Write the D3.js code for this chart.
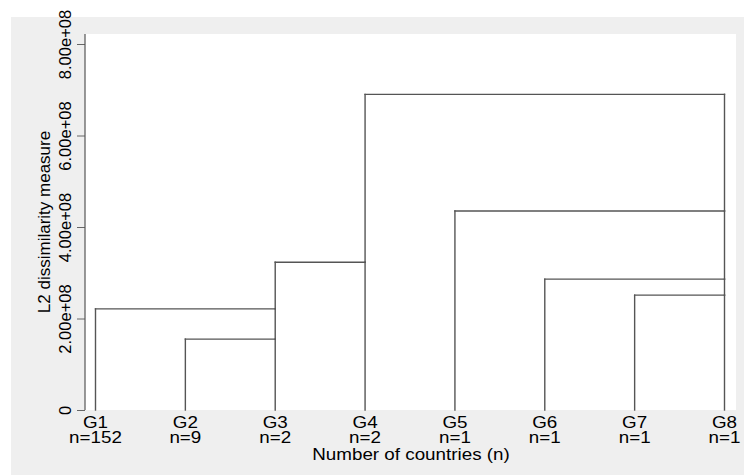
<!DOCTYPE html>
<html>
<head>
<meta charset="utf-8">
<script src="https://cdn.jsdelivr.net/npm/d3@7"></script>
<style>
  body { margin: 0; background: #fff; }
  text { font-family: "Liberation Sans", Arial, sans-serif; fill: #000; }
</style>
</head>
<body>
<div id="chart"></div>
<script>
// Leaves of the dendrogram and their sizes
var groups = ["G1", "G2", "G3", "G4", "G5", "G6", "G7", "G8"];
var counts = [152, 9, 2, 2, 1, 1, 1, 1];

// Merge steps: left group, right group (kept as representative), height
var mergeLeft = ["G7", "G2", "G1", "G6", "G3", "G5", "G4"];
var mergeRight = ["G8", "G3", "G3", "G8", "G4", "G8", "G8"];
var mergeHeight = [2.51e8, 1.55e8, 2.21e8, 2.86e8, 3.23e8, 4.35e8, 6.90e8];

var yTicks = [0, 2e8, 4e8, 6e8, 8e8];

var width = 744,
    height = 475,
    margin = { left: 85, right: 8, top: 34, bottom: 65 },
    yMaxPos = 44;

var svg = d3.select("#chart").append("svg")
    .attr("width", width)
    .attr("height", height);

// Outer graph region (light gray) and plot region (white)
svg.append("rect")
    .attr("x", 11).attr("y", 17)
    .attr("width", width - 11).attr("height", height - 17)
    .attr("fill", "#efefef");

svg.append("rect")
    .attr("x", margin.left).attr("y", margin.top)
    .attr("width", width - margin.left - margin.right)
    .attr("height", height - margin.top - margin.bottom)
    .attr("fill", "#fff");

var x = d3.scalePoint().domain(groups).range([95.5, 724.5]);
var y = d3.scaleLinear().domain([0, 8e8]).range([height - margin.bottom, yMaxPos]);

// Y axis
var fmt = function(d) {
    if (d === 0) return "0";
    return d3.format(".2e")(d).replace(/e\+(\d)$/, "e+0$1");
};
var yAxis = d3.axisLeft(y).tickValues(yTicks).tickFormat(fmt).tickSize(8).tickPadding(6);
var gy = svg.append("g")
    .attr("transform", "translate(" + margin.left + ",0)")
    .call(yAxis);
gy.select(".domain").remove();
gy.selectAll(".tick line").attr("stroke", "#666").attr("stroke-width", 1);
gy.selectAll(".tick text")
    .attr("font-size", 16.5)
    .attr("x", null).attr("dy", null)
    .attr("text-anchor", "middle")
    .attr("transform", "translate(-14,0) rotate(-90)");

svg.append("line")
    .attr("x1", margin.left).attr("x2", margin.left)
    .attr("y1", margin.top).attr("y2", height - margin.bottom)
    .attr("stroke", "#555").attr("stroke-width", 1.2);

// Y title
svg.append("text")
    .attr("transform", "translate(50," + ((margin.top + height - margin.bottom) / 2) + ") rotate(-90)")
    .attr("text-anchor", "middle")
    .attr("font-size", 17)
    .text("L2 dissimilarity measure");

// Dendrogram links (representative of a merged cluster is the right member)
var curH = {};
groups.forEach(function(g) { curH[g] = 0; });
var segs = [];
mergeLeft.forEach(function(a, i) {
    var b = mergeRight[i], h = mergeHeight[i];
    segs.push([x(a), y(curH[a]), x(a), y(h)]);
    segs.push([x(b), y(curH[b]), x(b), y(h)]);
    segs.push([x(a), y(h), x(b), y(h)]);
    curH[b] = h;
});

svg.append("g").selectAll("line")
    .data(segs)
    .enter().append("line")
    .attr("x1", d => d[0]).attr("y1", d => d[1])
    .attr("x2", d => d[2]).attr("y2", d => d[3])
    .attr("stroke", "#555")
    .attr("stroke-width", 1.4)
    .attr("stroke-linecap", "square");

// Leaf labels
var leaf = svg.append("g").selectAll("g")
    .data(groups)
    .enter().append("g")
    .attr("transform", d => "translate(" + x(d) + ",0)");

leaf.append("text")
    .attr("y", 428)
    .attr("text-anchor", "middle")
    .attr("font-size", 16.5)
    .attr("transform", "scale(1.14,1)")
    .text(d => d);

leaf.append("text")
    .attr("y", 443)
    .attr("text-anchor", "middle")
    .attr("font-size", 16.5)
    .attr("transform", "scale(1.14,1)")
    .text((d, i) => "n=" + counts[i]);

// X title
svg.append("text")
    .attr("transform", "translate(411,460) scale(1.14,1)")
    .attr("text-anchor", "middle")
    .attr("font-size", 16.5)
    .text("Number of countries (n)");
</script>
</body>
</html>
